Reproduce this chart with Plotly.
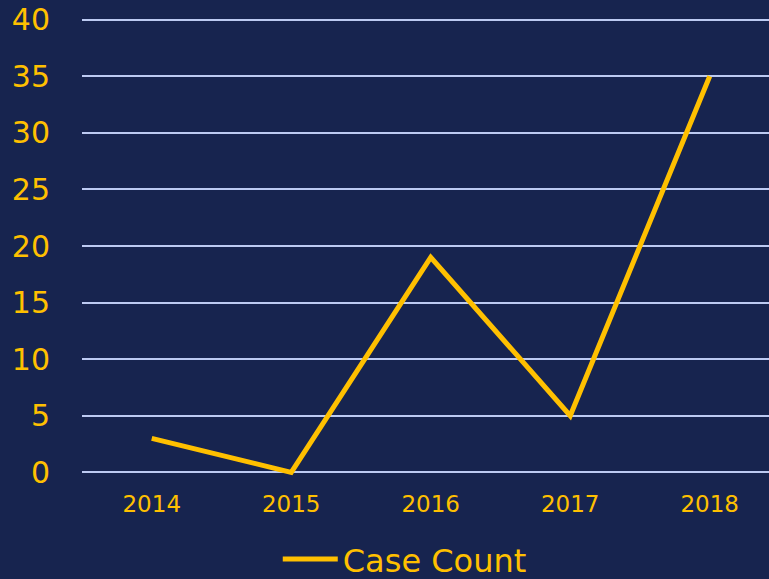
import plotly.graph_objects as go

years = ["2014", "2015", "2016", "2017", "2018"]
case_counts = [3, 0, 19, 5, 35]
y_ticks = [0, 5, 10, 15, 20, 25, 30, 35, 40]

navy = "#17244f"
gold = "#ffc000"
grid = "#bccaf2"
font_family = "Verdana, DejaVu Sans, sans-serif"

fig = go.Figure()
fig.add_trace(go.Scatter(x=years, y=case_counts, name="Case Count", mode="lines",
                         line={"color": gold, "width": 5}))

fig.update_layout(
    width=769, height=579,
    paper_bgcolor=navy, plot_bgcolor=navy,
    margin={"l": 82, "r": 0, "t": 14, "b": 101},
    font={"family": font_family, "color": gold},
    showlegend=True,
    legend={"orientation": "h", "xref": "container", "yref": "container",
            "x": 0.3612, "xanchor": "left", "y": 0.034, "yanchor": "middle",
            "font": {"size": 32, "color": gold}, "bgcolor": "rgba(0,0,0,0)",
            "itemwidth": 55},
    xaxis={"type": "category", "range": [-0.5, 4.425], "showgrid": False, "zeroline": False,
           "showline": False, "tickfont": {"size": 23, "color": gold},
           "ticks": "outside", "ticklen": 5, "tickcolor": "rgba(0,0,0,0)"},
    yaxis={"range": [-0.5, 40.5], "tickvals": y_ticks, "showgrid": True, "gridcolor": grid,
           "gridwidth": 1.6, "zeroline": False, "showline": False,
           "tickfont": {"size": 30, "color": gold},
           "ticks": "outside", "ticklen": 25, "tickcolor": "rgba(0,0,0,0)"},
)

fig.write_html(
    "out.html",
    config={"displayModeBar": False},
    post_script="document.documentElement.style.overflow = 'hidden';"
                "document.body.style.margin = '0';"
                "document.body.style.overflow = 'hidden';",
)
